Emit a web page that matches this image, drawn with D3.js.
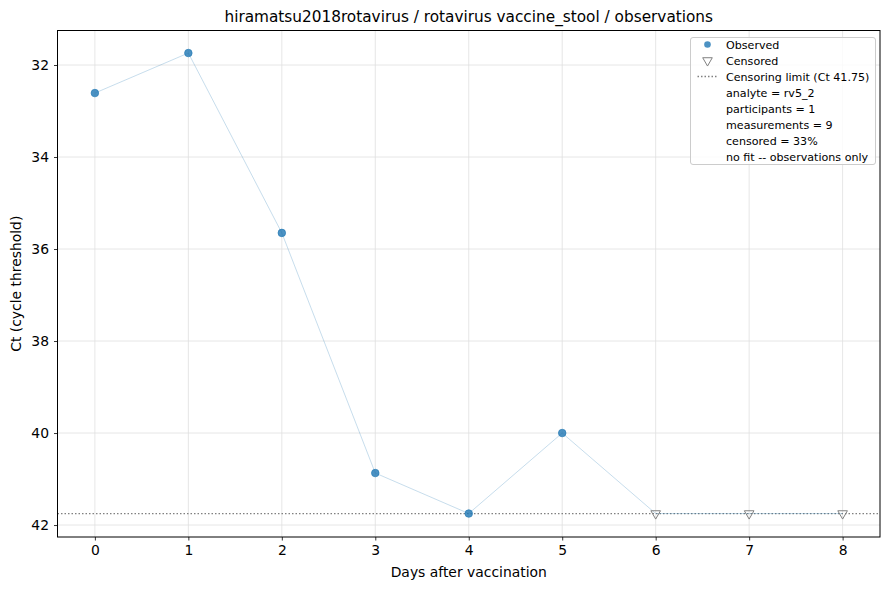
<!DOCTYPE html>
<html>
<head>
<meta charset="utf-8">
<script src="https://cdn.jsdelivr.net/npm/d3@7"></script>
<style>
  body { margin: 0; background: #fff; }
  text { font-family: "DejaVu Sans", sans-serif; }
</style>
</head>
<body>
<div id="container"></div>
<script>
/* CONSTANTS AND GLOBALS */
const width = 889,
  height = 590,
  margin = { top: 30.5, bottom: 53, left: 57.5, right: 9 };

// DATA
const days = [0, 1, 2, 3, 4, 5, 6, 7, 8];
const ctValues = [32.61, 31.74, 35.65, 40.87, 41.75, 40.0, 41.75, 41.75, 41.75];
const censored = [false, false, false, false, false, false, true, true, true];
const censorLimit = 41.75;
const xTicks = [0, 1, 2, 3, 4, 5, 6, 7, 8];
const yTicks = [32, 34, 36, 38, 40, 42];
const legendInfo = ["analyte = rv5_2", "participants = 1", "measurements = 9", "censored = 33%", "no fit -- observations only"];

const points = days.map((d, i) => ({ day: d, ct: ctValues[i], cens: censored[i] }));

const svg = d3.select("#container")
  .append("svg")
  .attr("width", width)
  .attr("height", height);

// SCALES (y inverted: low Ct on top)
const x = d3.scaleLinear()
  .domain([-0.4, 8.4])
  .range([margin.left, width - margin.right]);

const y = d3.scaleLinear()
  .domain([31.25, 42.26])
  .range([margin.top, height - margin.bottom]);

// GRID
svg.append("g")
  .selectAll("line")
  .data(xTicks)
  .join("line")
  .attr("x1", d => x(d)).attr("x2", d => x(d))
  .attr("y1", margin.top).attr("y2", height - margin.bottom)
  .attr("stroke", "#e0e0e0").attr("stroke-width", 0.8);

svg.append("g")
  .selectAll("line")
  .data(yTicks)
  .join("line")
  .attr("x1", margin.left).attr("x2", width - margin.right)
  .attr("y1", d => y(d)).attr("y2", d => y(d))
  .attr("stroke", "#e0e0e0").attr("stroke-width", 0.8);

// censoring limit
svg.append("line")
  .attr("x1", margin.left).attr("x2", width - margin.right)
  .attr("y1", y(censorLimit)).attr("y2", y(censorLimit))
  .attr("stroke", "#808080")
  .attr("stroke-width", 1.3)
  .attr("stroke-dasharray", "1.5,2");

// connecting line
const lineGen = d3.line().x(d => x(d.day)).y(d => y(d.ct));
svg.append("path")
  .datum(points)
  .attr("d", lineGen)
  .attr("fill", "none")
  .attr("stroke", "#1f77b4")
  .attr("stroke-opacity", 0.25)
  .attr("stroke-width", 1);

// observed
svg.selectAll("circle.obs")
  .data(points.filter(d => !d.cens))
  .join("circle")
  .attr("class", "obs")
  .attr("cx", d => x(d.day))
  .attr("cy", d => y(d.ct))
  .attr("r", 3.8)
  .attr("fill", "#1f77b4")
  .attr("fill-opacity", 0.8)
  .attr("stroke", "#1f77b4")
  .attr("stroke-opacity", 0.8)
  .attr("stroke-width", 0.8);

// censored triangles
const tri = d3.symbol().type(d3.symbolTriangle).size(40);
svg.selectAll("path.cens")
  .data(points.filter(d => d.cens))
  .join("path")
  .attr("class", "cens")
  .attr("d", tri)
  .attr("transform", d => `translate(${x(d.day)}, ${y(d.ct)}) rotate(180)`)
  .attr("fill", "none")
  .attr("stroke", "#808080")
  .attr("stroke-width", 1);

// AXES
const xAxis = svg.append("g")
  .attr("transform", `translate(0, ${height - margin.bottom})`)
  .call(d3.axisBottom(x).tickValues(xTicks).tickSize(3.5).tickPadding(5).tickFormat(d3.format("d")));

const yAxis = svg.append("g")
  .attr("transform", `translate(${margin.left}, 0)`)
  .call(d3.axisLeft(y).tickValues(yTicks).tickSize(3.5).tickPadding(5).tickFormat(d3.format("d")));

[xAxis, yAxis].forEach(a => {
  a.select(".domain").remove();
  a.selectAll("text").attr("font-size", 13.9).attr("fill", "#000").attr("font-family", "DejaVu Sans");
  a.selectAll("line").attr("stroke", "#000").attr("stroke-width", 0.8);
});

// frame
svg.append("rect")
  .attr("x", margin.left).attr("y", margin.top)
  .attr("width", width - margin.left - margin.right)
  .attr("height", height - margin.top - margin.bottom)
  .attr("fill", "none")
  .attr("stroke", "#000")
  .attr("stroke-width", 1);

// LABELS
svg.append("text")
  .attr("x", (margin.left + width - margin.right) / 2)
  .attr("y", 22)
  .attr("text-anchor", "middle")
  .attr("font-size", 15.3)
  .text("hiramatsu2018rotavirus / rotavirus vaccine_stool / observations");

svg.append("text")
  .attr("x", (margin.left + width - margin.right) / 2)
  .attr("y", 577)
  .attr("text-anchor", "middle")
  .attr("font-size", 13.9)
  .text("Days after vaccination");

svg.append("text")
  .attr("transform", `translate(21, ${(margin.top + height - margin.bottom) / 2}) rotate(-90)`)
  .attr("text-anchor", "middle")
  .attr("font-size", 13.9)
  .text("Ct (cycle threshold)");

// LEGEND
const legend = svg.append("g")
  .attr("class", "legend")
  .attr("transform", "translate(690.5, 37.5)");

legend.append("rect")
  .attr("width", 185)
  .attr("height", 127)
  .attr("rx", 2.5)
  .attr("fill", "#fff")
  .attr("fill-opacity", 0.8)
  .attr("stroke", "#cccccc")
  .attr("stroke-width", 1);

const rowY = i => 7 + i * 16;

legend.append("circle")
  .attr("cx", 17).attr("cy", rowY(0))
  .attr("r", 3.3)
  .attr("fill", "#1f77b4").attr("fill-opacity", 0.8);

legend.append("path")
  .attr("d", tri)
  .attr("transform", `translate(17, ${rowY(1)}) rotate(180)`)
  .attr("fill", "none")
  .attr("stroke", "#808080");

legend.append("line")
  .attr("x1", 7).attr("x2", 27)
  .attr("y1", rowY(2)).attr("y2", rowY(2))
  .attr("stroke", "#808080")
  .attr("stroke-width", 1.3)
  .attr("stroke-dasharray", "1.5,2");

const labels = ["Observed", "Censored", `Censoring limit (Ct ${censorLimit})`].concat(legendInfo);
legend.selectAll("text")
  .data(labels)
  .join("text")
  .attr("x", 35.5)
  .attr("y", (d, i) => rowY(i) + 4)
  .attr("font-size", 11.1)
  .attr("fill", "#000")
  .text(d => d);
</script>
</body>
</html>
